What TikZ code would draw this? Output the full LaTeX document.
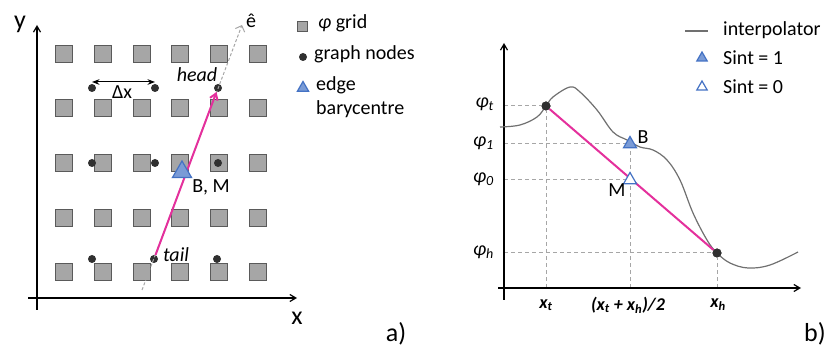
\documentclass[tikz,border=0pt]{standalone}
\usepackage{fontspec}
\setmainfont{Carlito}
\usetikzlibrary{arrows.meta, shapes.geometric}
\definecolor{cellfill}{HTML}{A6A6A6}
\definecolor{celldraw}{HTML}{5A5A5A}
\definecolor{dotc}{HTML}{303030}
\definecolor{triblue}{HTML}{4472C4}
\definecolor{trifill}{HTML}{7A9BD6}
\definecolor{edgec}{HTML}{E4309C}
\definecolor{guide}{HTML}{A6A6A6}
\definecolor{curvec}{HTML}{707070}
\tikzset{
    cell/.style={draw=celldraw, fill=cellfill, line width=1pt, minimum size=17pt, inner sep=0pt},
    gdot/.style={circle, fill=dotc, inner sep=0pt, minimum size=8pt},
    tri/.style={regular polygon, regular polygon sides=3, draw=triblue, line width=1.2pt, inner sep=0pt, minimum size=#1},
    trifull/.style={tri=#1, fill=trifill},
    triopen/.style={tri=#1, fill=white},
    axis/.style={line width=1.2pt, -{Straight Barb[length=6pt, width=7pt]}},
    lbl/.style={inner sep=0pt, font=\fontsize{20}{24}\selectfont},
    big/.style={inner sep=0pt, font=\fontsize{26}{30}\selectfont},
    guideline/.style={draw=guide, line width=1pt, dash pattern=on 4pt off 3pt},
    bd/.style={>=Stealth}
}

\begin{document}
\begin{tikzpicture}[x=1pt, y=-1pt, bd]
    \useasboundingbox (0,0) rectangle (830,352);

    % a) grid, graph nodes and edge
    \coordinate (ay0) at (37,310); \coordinate (ay1) at (37,25);
    \coordinate (ax0) at (28,298); \coordinate (ax1) at (297,298);
    \draw[axis] (ay0) -- (ay1);
    \draw[axis] (ax0) -- (ax1);
    \node[big] at (20,24) {y};
    \node[big] at (297,318) {x};

    \foreach \cx in {64,103,142,180,219,258}
        \foreach \cy in {54,108,163,218,272}
            \node[cell] at (\cx,\cy) {};

    \node[gdot] (g1) at (92,88) {};
    \node[gdot] (g2) at (155,88) {};
    \node[gdot] (head) at (218,88) {};
    \node[gdot] (g4) at (92,163) {};
    \node[gdot] (g5) at (155,163) {};
    \node[gdot] (g6) at (218,163) {};
    \node[gdot] (g7) at (92,259) {};
    \node[gdot] (tail) at (154,259) {};
    \node[gdot] (g9) at (217,259) {};

    \draw[<->, line width=1pt] ([yshift=6pt]g1.center) -- ([yshift=6pt]g2.center);
    \node[lbl] at (122,92) {Δx};

    \coordinate (e0) at (142,290);
    \coordinate (e1) at (242,25);
    \draw[guideline, dash pattern=on 3pt off 2pt, -{Straight Barb[length=5pt]}] (e0) -- (e1);
    \node[lbl] at (251,21) {ê};
    \draw[edgec, line width=2pt, -{Straight Barb[length=6pt, width=8pt]}] (tail) -- (head);
    \node[trifull=22pt] (bm) at (182,172) {};
    \node[lbl] at (211,187) {B, M};
    \node[lbl, font=\fontsize{20}{24}\selectfont\itshape] at (197,75) {head};
    \node[lbl, font=\fontsize{20}{24}\selectfont\itshape] at (176,255) {tail};

    % legend a)
    \node[cell, minimum size=10pt] (lsq) at (302,27) {};
    \node[lbl, anchor=west] at (318,23) {\itshape φ\upshape\ grid};
    \node[gdot] (ldot) at (303,57) {};
    \node[lbl, anchor=west] at (314,54) {graph nodes};
    \node[trifull=13pt] (ltri) at (303,88) {};
    \node[lbl, anchor=west] at (316,85) {edge};
    \node[lbl, anchor=west] at (316,109) {barycentre};
    \node[big] at (396,334) {a)};

    % b) interpolation along the edge
    \coordinate (by0) at (504,300); \coordinate (by1) at (504,43);
    \coordinate (bx0) at (498,288); \coordinate (bx1) at (801,288);

    \node[gdot, minimum size=9pt] (t) at (546,106) {};
    \node[gdot, minimum size=9pt] (h) at (717,253) {};
    \coordinate (m) at (630,180);
    \coordinate (b) at (630,144);

    \draw[guideline] (504,106) -- (t);
    \draw[guideline] (504,144) -- (b);
    \draw[guideline] (504,180) -- (m);
    \draw[guideline] (504,253) -- (h);
    \draw[guideline] (546,288) -- (t);
    \draw[guideline] (630,288) -- (b);
    \draw[guideline] (717,288) -- (h);

    \draw[axis] (by0) -- (by1);
    \draw[axis] (bx0) -- (bx1);

    \draw[curvec, line width=1.2pt] plot[smooth, tension=0.6] coordinates {
        (500,127) (520,125) (537,117) (546,106) (553,97) (570,87) (580,92)
        (597,110) (613,132) (627,140) (640,147) (653,150) (667,160) (680,180)
        (693,213) (707,240) (717,253) (730,263) (748,268) (770,265) (798,252)};
    \draw[edgec, line width=2pt] (t) -- (h);
    \node[gdot, minimum size=9pt] at (t) {};
    \node[gdot, minimum size=9pt] at (h) {};

    \node[trifull=15pt] (bb) at (b) {};
    \node[triopen=15pt] (mm) at (m) {};
    \node[lbl] at (643,137) {B};
    \node[lbl] at (617,190) {M};

    \node[lbl, anchor=east] at (494,104) {\itshape φ\textsubscript{t}};
    \node[lbl, anchor=east] at (494,143) {\itshape φ\textsubscript{1}};
    \node[lbl, anchor=east] at (494,179) {\itshape φ\textsubscript{0}};
    \node[lbl, anchor=east] at (494,252) {\itshape φ\textsubscript{h}};
    \node[lbl, font=\fontsize{18}{22}\selectfont\bfseries\itshape] at (546,305) {x\textsubscript{t}};
    \node[lbl, font=\fontsize{18}{22}\selectfont\bfseries\itshape] at (628,305) {(x\textsubscript{t} + x\textsubscript{h})/2};
    \node[lbl, font=\fontsize{18}{22}\selectfont\bfseries\itshape] at (718,305) {x\textsubscript{h}};

    % legend b)
    \coordinate (ll0) at (685,31); \coordinate (ll1) at (708,31);
    \draw[curvec, line width=1.2pt] (ll0) -- (ll1);
    \node[lbl, anchor=west] at (723,30) {interpolator};
    \node[trifull=12pt] (lt1) at (702,58) {};
    \node[lbl, anchor=west] at (723,58) {Sint = 1};
    \node[triopen=12pt] (lt0) at (702,87) {};
    \node[lbl, anchor=west] at (723,87) {Sint = 0};
    \node[big] at (815,334) {b)};
\end{tikzpicture}
\end{document}
